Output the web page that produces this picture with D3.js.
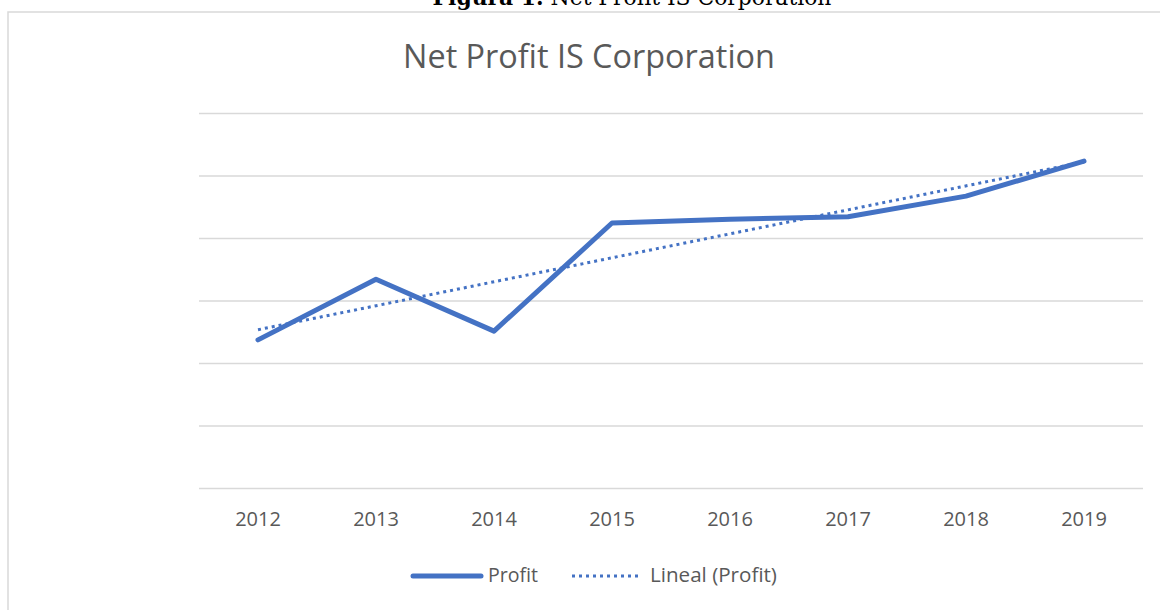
<!DOCTYPE html>
<html>
<head>
<meta charset="utf-8">
<script src="https://cdn.jsdelivr.net/npm/d3@7"></script>
<style>
  body { margin: 0; background: #fff; }
  svg { display: block; }
</style>
</head>
<body>
<svg id="chart" width="1160" height="610"></svg>
<script>
// Data (gridline = 10 units, axis labels hidden in the original)
const years = ['2012', '2013', '2014', '2015', '2016', '2017', '2018', '2019'];
const profit = [23.7, 33.4, 25.1, 42.4, 43.0, 43.4, 46.7, 52.3];
const yTicks = [0, 10, 20, 30, 40, 50, 60];

const blue = '#4472C4';
const grey = '#595959';
const svg = d3.select('#chart');

// shrink/grow font so a text fits the width seen in the reference
function fitWidth(sel, target) {
  const fs = parseFloat(sel.style('font-size'));
  const w = sel.node().getComputedTextLength();
  sel.style('font-size', (fs * target / w) + 'px');
}

// frame of the chart area
svg.append('rect')
  .attr('x', 8).attr('y', 12)
  .attr('width', 1170).attr('height', 620)
  .attr('fill', 'none')
  .attr('stroke', '#d9d9d9')
  .attr('stroke-width', 1.5);

// figure caption, cut off at the top as in the source page
const cap = svg.append('text')
  .attr('x', 632).attr('y', 5)
  .attr('text-anchor', 'middle')
  .style('font-family', '"DejaVu Serif", "Liberation Serif", serif')
  .style('font-size', '20px')
  .style('fill', '#000');
cap.append('tspan').style('font-weight', 'bold').text('Figura 1.');
cap.append('tspan').text(' Net Profit IS Corporation');
fitWidth(cap, 399);

// title
const title = svg.append('text')
  .attr('x', 589).attr('y', 68)
  .attr('text-anchor', 'middle')
  .style('font-family', '"Open Sans", sans-serif')
  .style('font-size', '28px')
  .style('fill', grey)
  .text('Net Profit IS Corporation');
fitWidth(title, 372);

// scales
const x = d3.scaleBand().domain(years).range([199, 1143]);
const y = d3.scaleLinear().domain([0, 60]).range([488, 113]);

// gridlines
const grid = svg.append('g')
  .attr('transform', 'translate(199,0)')
  .call(d3.axisLeft(y).tickValues(yTicks).tickSize(-(1143 - 199)).tickFormat(''));
grid.select('.domain').remove();
grid.selectAll('.tick line').attr('stroke', '#d9d9d9').attr('stroke-width', 1.5);

// x axis labels
const xAxis = svg.append('g')
  .attr('transform', 'translate(0,488)')
  .call(d3.axisBottom(x).tickSize(0).tickPadding(24));
xAxis.select('.domain').remove();
xAxis.selectAll('text')
  .style('font-family', '"Open Sans", sans-serif')
  .style('font-size', '20px')
  .style('fill', grey);

// linear trend (least squares on profit)
const n = profit.length;
const xs = d3.range(n);
const mx = d3.mean(xs), my = d3.mean(profit);
const slope = d3.sum(xs, i => (i - mx) * (profit[i] - my)) / d3.sum(xs, i => (i - mx) * (i - mx));
const icpt = my - slope * mx;
const trend = [icpt, icpt + slope * (n - 1)];

const cx = d => x(d) + x.bandwidth() / 2;

svg.append('line')
  .attr('x1', cx(years[0])).attr('y1', y(trend[0]))
  .attr('x2', cx(years[n - 1])).attr('y2', y(trend[1]))
  .attr('stroke', blue)
  .attr('stroke-width', 3)
  .attr('stroke-dasharray', '3 4');

// profit line
const line = d3.line()
  .x((d, i) => cx(years[i]))
  .y(d => y(d));

svg.append('path')
  .datum(profit)
  .attr('d', line)
  .attr('fill', 'none')
  .attr('stroke', blue)
  .attr('stroke-width', 5)
  .attr('stroke-linejoin', 'round')
  .attr('stroke-linecap', 'round');

// legend
const lg = svg.append('g');
lg.append('line')
  .attr('x1', 413).attr('x2', 481).attr('y1', 576).attr('y2', 576)
  .attr('stroke', blue).attr('stroke-width', 5).attr('stroke-linecap', 'round');
const l1 = lg.append('text')
  .attr('x', 488).attr('y', 582)
  .style('font-family', '"Open Sans", sans-serif')
  .style('font-size', '18px')
  .style('fill', grey)
  .text('Profit');
fitWidth(l1, 50);
lg.append('line')
  .attr('x1', 572).attr('x2', 638).attr('y1', 576).attr('y2', 576)
  .attr('stroke', blue).attr('stroke-width', 3).attr('stroke-dasharray', '3 4');
const l2 = lg.append('text')
  .attr('x', 650).attr('y', 582)
  .style('font-family', '"Open Sans", sans-serif')
  .style('font-size', '18px')
  .style('fill', grey)
  .text('Lineal (Profit)');
fitWidth(l2, 127);
</script>
</body>
</html>
